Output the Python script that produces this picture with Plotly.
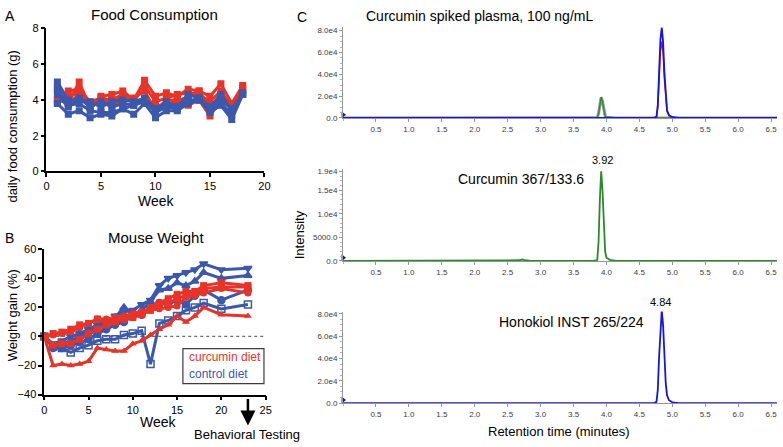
import plotly.graph_objects as go

W, H = 783, 447
FONT = "Liberation Sans"
RED = "rgb(232,52,40)"
BLUE = "rgb(58,88,172)"

# ---- panel A: daily food consumption (g) per week
weeks_a = list(range(1, 19))
food_red = [
    [4.0, 3.8, 5.0, 3.6, 4.2, 4.3, 4.5, 4.0, 5.1, 4.2, 4.4, 4.2, 4.6, 4.5, 4.2, 4.9, 3.8, 4.8],
    [3.8, 4.5, 4.6, 3.9, 4.1, 4.0, 4.1, 3.9, 4.8, 3.9, 4.1, 4.3, 4.4, 4.3, 3.9, 4.5, 3.6, 4.7],
    [4.7, 3.8, 4.3, 3.7, 4.0, 3.7, 3.9, 4.1, 4.5, 3.4, 4.0, 4.0, 3.7, 4.0, 3.1, 4.0, 3.5, 4.6],
    [4.0, 4.2, 4.4, 3.6, 3.9, 4.0, 4.3, 3.8, 4.0, 3.6, 3.8, 3.9, 4.2, 4.5, 3.5, 4.2, 3.8, 4.4],
]
food_blue = [
    [5.0, 4.0, 4.0, 3.9, 3.6, 3.9, 4.0, 3.9, 4.1, 3.5, 3.9, 3.6, 4.3, 4.1, 3.6, 4.3, 3.4, 4.4],
    [4.6, 3.7, 3.8, 3.4, 3.3, 3.3, 3.5, 3.7, 4.0, 3.3, 3.6, 3.5, 4.0, 4.0, 3.4, 3.8, 3.2, 4.3],
    [3.8, 3.2, 3.4, 3.0, 3.2, 3.1, 3.5, 3.2, 3.8, 3.0, 3.4, 3.4, 3.8, 4.0, 3.3, 3.7, 2.9, 4.3],
    [4.3, 3.6, 4.1, 3.6, 3.9, 3.6, 3.8, 3.7, 3.9, 3.5, 3.7, 3.6, 3.9, 4.1, 3.6, 4.0, 3.5, 4.3],
]

# ---- panel B: weight gain (%)
weeks_b = list(range(0, 19)) + [20, 23]
gain_blue = [
    [0, -5, -3, 0, 2, 5, 8, 10, 14, 17, 18, 22, 25, 35, 40, 42, 44, 46, 50, 46, 47],
    [0, -7, -5, -3, 0, 3, 6, 9, 13, 20, 15, 18, 24, 32, 33, 37, 35, 38, 44, 40, 42],
    [0, -8, -8, -6, -4, -2, 2, 5, 8, 10, 14, 15, 20, 23, 22, 25, 22, 28, 32, 25, 32],
    [0, -7, -8, -11, -8, -6, -3, -2, -2, 1, 2, 4, -19, 9, 11, 14, 18, 20, 23, 19, 22],
]
gain_red = [
    [0, 2, 3, 5, 8, 9, 12, 10, 11, 12, 14, 16, 20, 23, 26, 29, 31, 31, 35, 37, 35],
    [0, 1, 2, 3, 6, 9, 12, 12, 13, 14, 16, 17, 18, 19, 20, 21, 27, 28, 30, 33, 30],
    [0, -20, -19, -20, -19, -17, -8, -9, -10, -10, -5, -3, 1, 5, 8, 14, 10, 14, 20, 15, 14],
    [0, -6, -5, -5, -2, 2, 5, 8, 10, 12, 13, 15, 18, 22, 23, 26, 28, 30, 33, 34, 34],
]
sym_blue = ["triangle-down", "triangle-up", "circle", "square-open"]
sym_red = ["square", "circle", "triangle-up", "square"]

# ---- panel C: chromatograms (retention time in minutes, intensity)
rt_cur = [0, 2.6, 2.68, 2.72, 2.76, 2.85, 3.8, 3.86, 3.88, 3.90, 3.92, 3.94, 3.96, 3.98, 4.00, 4.05, 4.15, 6.59]
int_cur = [0, 0, 150, 300, 150, 0, 0, 200, 4000, 13000, 19000, 15000, 7000, 2000, 700, 250, 0, 0]
rt_hon = [0, 4.72, 4.76, 4.78, 4.80, 4.82, 4.84, 4.86, 4.88, 4.90, 4.92, 4.95, 5.0, 5.1, 6.59]
int_hon = [0, 0, 1000, 12000, 42000, 72000, 83000, 70000, 42000, 18000, 7000, 2500, 700, 0, 0]
int_hon_red = [0, 0, 800, 10000, 36000, 61000, 70000, 60000, 36000, 15000, 6000, 2000, 600, 0, 0]
rt_ticks = [0.5, 1.0, 1.5, 2.0, 2.5, 3.0, 3.5, 4.0, 4.5, 5.0, 5.5, 6.0, 6.5]
top_ticks = [0, 20000, 40000, 60000, 80000]
top_labels = ["0.0", "2.0e4", "4.0e4", "6.0e4", "8.0e4"]
mid_ticks = [0, 5000, 10000, 15000, 19000]
mid_labels = ["0.0", "5000.0", "1.0e4", "1.5e4", "1.9e4"]


def px(x):
    return x / W


def py(y):
    return 1 - y / H


fig = go.Figure()

for vals in food_red:
    fig.add_trace(go.Scatter(x=weeks_a, y=vals, mode="lines+markers", xaxis="x", yaxis="y",
                             line=dict(color=RED, width=3), marker=dict(symbol="square", size=7, color=RED)))
for vals in food_blue:
    fig.add_trace(go.Scatter(x=weeks_a, y=vals, mode="lines+markers", xaxis="x", yaxis="y",
                             line=dict(color=BLUE, width=3), marker=dict(symbol="square", size=7, color=BLUE)))

for vals, s in zip(gain_blue, sym_blue):
    fig.add_trace(go.Scatter(x=weeks_b, y=vals, mode="lines+markers", xaxis="x2", yaxis="y2", cliponaxis=False,
                             line=dict(color=BLUE, width=3),
                             marker=dict(symbol=s, size=7, color=BLUE, line=dict(color=BLUE, width=1.5))))
for vals, s in zip(gain_red, sym_red):
    fig.add_trace(go.Scatter(x=weeks_b, y=vals, mode="lines+markers", xaxis="x2", yaxis="y2", cliponaxis=False,
                             line=dict(color=RED, width=3),
                             marker=dict(symbol=s, size=7, color=RED)))

# top chromatogram
fig.add_trace(go.Scatter(x=rt_cur, y=int_cur, mode="lines", xaxis="x3", yaxis="y3",
                         line=dict(color="rgb(150,150,150)", width=3)))
fig.add_trace(go.Scatter(x=rt_cur, y=int_cur, mode="lines", xaxis="x3", yaxis="y3",
                         line=dict(color="rgb(40,140,40)", width=1.2)))
fig.add_trace(go.Scatter(x=rt_hon, y=int_hon_red, mode="lines", xaxis="x3", yaxis="y3",
                         line=dict(color="rgb(200,30,70)", width=1.5)))
fig.add_trace(go.Scatter(x=rt_hon, y=int_hon, mode="lines", xaxis="x3", yaxis="y3",
                         line=dict(color="rgb(20,20,230)", width=1.8)))
# middle
fig.add_trace(go.Scatter(x=rt_cur, y=int_cur, mode="lines", xaxis="x4", yaxis="y4",
                         line=dict(color="rgb(40,140,40)", width=1.8)))
# bottom
fig.add_trace(go.Scatter(x=rt_hon, y=int_hon, mode="lines", xaxis="x5", yaxis="y5",
                         line=dict(color="rgb(20,20,230)", width=1.8)))
# start markers
for ax, yv in [("3", 2800), ("4", 700), ("5", 2800)]:
    fig.add_trace(go.Scatter(x=[0], y=[yv], mode="markers", xaxis="x" + ax, yaxis="y" + ax, cliponaxis=False,
                             marker=dict(symbol="triangle-right", size=6, color="rgb(20,20,200)")))

blk = dict(showgrid=False, zeroline=False, showline=True, linecolor="black", linewidth=1.5,
           ticks="outside", ticklen=4, tickwidth=1.5, tickcolor="black",
           tickfont=dict(family=FONT, size=11, color="black"))
chx = dict(showgrid=False, zeroline=False, showline=True, linecolor="rgb(150,150,150)", linewidth=1,
           ticks="outside", ticklen=3, tickcolor="rgb(150,150,150)",
           tickfont=dict(family=FONT, size=8, color="rgb(60,60,60)"),
           minor=dict(ticks="outside", ticklen=2, tickcolor="rgb(180,180,180)"))

fig.update_layout(
    width=W, height=H, margin=dict(l=0, r=0, t=0, b=0),
    paper_bgcolor="white", plot_bgcolor="white", showlegend=False,
    font=dict(family=FONT, color="black"),
    xaxis=dict(blk, domain=[px(44), px(264.5)], range=[0, 20], tickvals=[0, 5, 10, 15, 20], anchor="y"),
    yaxis=dict(blk, domain=[py(170), py(23)], range=[0, 8], tickvals=[0, 2, 4, 6, 8], anchor="x"),
    xaxis2=dict(blk, domain=[px(41.7), px(265.7)], range=[0, 25], tickvals=[0, 5, 10, 15, 20, 25], anchor="y2"),
    yaxis2=dict(blk, domain=[py(399.3), py(250)], range=[-40, 60], tickvals=[-40, -20, 0, 20, 40, 60], anchor="x2"),
    xaxis3=dict(chx, domain=[px(344), 1], range=[0, 6.59], tickvals=rt_ticks, tickformat=".1f", anchor="y3"),
    yaxis3=dict(chx, domain=[py(115), py(22)], range=[0, 83000], tickvals=top_ticks, ticktext=top_labels, anchor="x3"),
    xaxis4=dict(chx, domain=[px(344), 1], range=[0, 6.59], tickvals=rt_ticks, tickformat=".1f", anchor="y4"),
    yaxis4=dict(chx, domain=[py(262), py(168)], range=[0, 19400], tickvals=mid_ticks, ticktext=mid_labels, anchor="x4"),
    xaxis5=dict(chx, domain=[px(344), 1], range=[0, 6.59], tickvals=rt_ticks, tickformat=".1f", anchor="y5"),
    yaxis5=dict(chx, domain=[py(408), py(314)], range=[0, 82000], tickvals=top_ticks, ticktext=top_labels, anchor="x5"),
)

# dotted zero line in panel B
fig.add_shape(type="line", xref="x2", yref="y2", x0=0, x1=25, y0=0, y1=0, layer="below",
              line=dict(color="rgb(110,110,110)", width=1.2, dash="dot"))
# legend box
fig.add_shape(type="rect", xref="paper", yref="paper", x0=px(182), x1=px(264), y0=py(388), y1=py(352),
              line=dict(color="rgb(60,60,60)", width=1.2), fillcolor="white")


def txt(x, y, s, size, color="black", angle=0, xanchor="center"):
    fig.add_annotation(x=px(x), y=py(y), xref="paper", yref="paper", text=s, showarrow=False,
                       xanchor=xanchor, yanchor="middle", textangle=angle,
                       font=dict(family=FONT, size=size, color=color))


txt(7, 10, "A", 14)
txt(153, 9, "Food Consumption", 15)
txt(10, 124, "daily food consumption (g)", 13, angle=-90)
txt(155, 200, "Week", 14)
txt(7, 238, "B", 14)
txt(155, 238, "Mouse Weight", 15)
txt(10, 318, "Weight gain (%)", 13, angle=-90)
txt(157, 427, "Week", 14)
txt(191, 440, "Behavioral Testing", 13, xanchor="left")
txt(186, 361, "curcumin diet", 12, RED, xanchor="left")
txt(186, 378, "control diet", 12, BLUE, xanchor="left")
txt(302, 11, "C", 14)
txt(482, 10, "Curcumin spiked plasma, 100 ng/mL", 14)
txt(300, 235, "Intensity", 13, angle=-90)
txt(606, 158, "3.92", 11)
txt(524, 178, "Curcumin 367/133.6", 14)
txt(665, 304, "4.84", 11)
txt(575, 325, "Honokiol INST 265/224", 14)
txt(562, 437, "Retention time (minutes)", 13)

fig.add_annotation(x=23, xref="x2", y=py(431), yref="paper", ax=0, ay=-28, text="", showarrow=True,
                   arrowhead=2, arrowsize=1.2, arrowwidth=2.5, arrowcolor="black")

fig.write_html("out.html", config={"displayModeBar": False},
               post_script="document.body.style.margin='0';")
